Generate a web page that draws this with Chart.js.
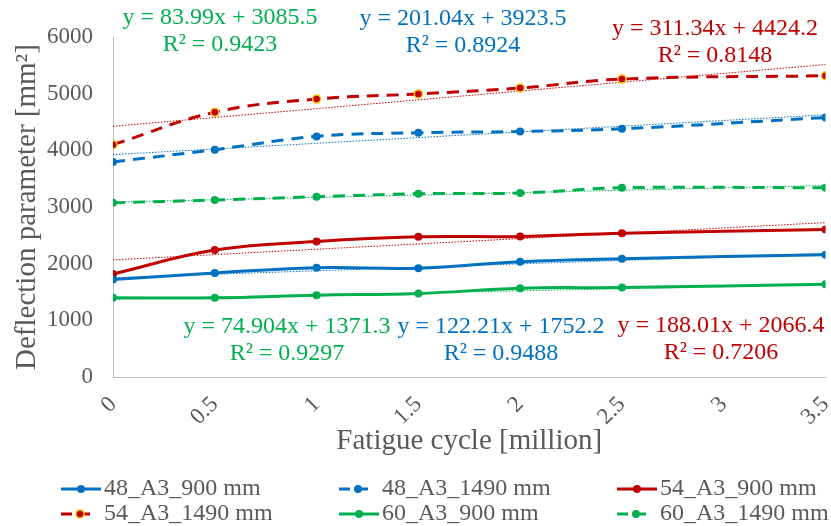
<!DOCTYPE html>
<html>
<head>
<meta charset="utf-8">
<script src="https://cdn.jsdelivr.net/npm/chart.js@4.4.0/dist/chart.umd.min.js"></script>
<style>
  body { margin: 0; background: #fff; }
  #wrap { width: 831px; height: 526px; }
</style>
</head>
<body>
<div id="wrap"><canvas id="graph" width="831" height="526"></canvas></div>
<script>
// fatigue cycles (million) where deflection was measured
const cycles = [0, 0.5, 1, 1.5, 2, 2.5, 3.5];
const xTickLabels = ['0', '0.5', '1', '1.5', '2', '2.5', '3', '3.5'];
const yTickLabels = ['0', '1000', '2000', '3000', '4000', '5000', '6000'];

// deflection parameter [mm²]
const s48_900  = [1719, 1836, 1930, 1920, 2035, 2088, 2158];
const s48_1490 = [3795, 4012, 4246, 4310, 4333, 4380, 4579];
const s54_900  = [1819, 2240, 2391, 2474, 2479, 2538, 2602];
const s54_1490 = [4100, 4672, 4905, 4995, 5100, 5258, 5316];
const s60_900  = [1398, 1398, 1444, 1474, 1567, 1579, 1637];
const s60_1490 = [3076, 3123, 3181, 3234, 3246, 3339, 3339];

const seriesNames = ['48_A3_900 mm', '48_A3_1490 mm', '54_A3_900 mm',
                     '54_A3_1490 mm', '60_A3_900 mm', '60_A3_1490 mm'];

// linear trendlines as printed on the chart
const trendSlope     = [122.21, 201.04, 188.01, 311.34, 74.904, 83.99];
const trendIntercept = [1752.2, 3923.5, 2066.4, 4424.2, 1371.3, 3085.5];
const trendR2        = ['0.9488', '0.8924', '0.7206', '0.8148', '0.9297', '0.9423'];

const BLUE = '#0070c0', RED = '#c00000', GREEN = '#00b050', GOLD = '#ffc000';
const TXT = '#595959';
const FONT = 'Liberation Serif';

const allValues = [s48_900, s48_1490, s54_900, s54_1490, s60_900, s60_1490];
const colors = [BLUE, BLUE, RED, RED, GREEN, GREEN];
const dashed = [false, true, false, true, false, true];

// where each equation label sits (pixel centres)
const eqPos = [
  { x: 501, y: 327 }, { x: 463, y: 19 }, { x: 721, y: 326 },
  { x: 715, y: 29 },  { x: 287, y: 327 }, { x: 220, y: 18 }
];

const datasets = [];
allValues.forEach((vals, i) => {
  datasets.push({
    label: seriesNames[i],
    data: cycles.map((c, k) => ({ x: c, y: vals[k] })),
    borderColor: colors[i],
    backgroundColor: colors[i],
    borderWidth: 3,
    borderDash: dashed[i] ? [12, 8] : [],
    tension: 0.4,
    pointRadius: 4,
    pointBorderWidth: i === 3 ? 1.5 : 0,
    pointBorderColor: i === 3 ? GOLD : colors[i],
    pointBackgroundColor: colors[i],
    order: 0
  });
});
trendSlope.forEach((m, i) => {
  const b = trendIntercept[i];
  datasets.push({
    label: 'trend ' + seriesNames[i],
    data: [{ x: 0, y: b }, { x: 3.5, y: b + m * 3.5 }],
    borderColor: colors[i],
    borderWidth: 1,
    borderDash: [1.5, 1.5],
    pointRadius: 0,
    order: 1
  });
});

const extras = {
  id: 'extras',
  afterDraw(chart) {
    const ctx = chart.ctx;
    ctx.save();
    // equation labels
    ctx.font = '24px "' + FONT + '"';
    ctx.textAlign = 'center';
    ctx.textBaseline = 'middle';
    eqPos.forEach((p, i) => {
      ctx.fillStyle = colors[i];
      ctx.fillText('y = ' + trendSlope[i] + 'x + ' + trendIntercept[i], p.x, p.y);
      ctx.fillText('R² = ' + trendR2[i], p.x, p.y + 27);
    });
    // legend, 3 columns x 2 rows
    ctx.textAlign = 'left';
    seriesNames.forEach((name, i) => {
      const col = i % 3, row = Math.floor(i / 3);
      const x0 = 61 + col * 278, y = 489 + row * 25;
      ctx.strokeStyle = colors[i];
      ctx.lineWidth = 3;
      ctx.setLineDash([]);
      ctx.beginPath();
      if (dashed[i]) {
        ctx.moveTo(x0, y); ctx.lineTo(x0 + 11, y);
        ctx.moveTo(x0 + 23, y); ctx.lineTo(x0 + 29, y);
      } else {
        ctx.moveTo(x0, y); ctx.lineTo(x0 + 40, y);
      }
      ctx.stroke();
      const mx = dashed[i] ? x0 + 19 : x0 + 20;
      ctx.beginPath();
      ctx.arc(mx, y, 4, 0, Math.PI * 2);
      ctx.fillStyle = colors[i];
      ctx.fill();
      if (i === 3) { ctx.lineWidth = 1.5; ctx.strokeStyle = GOLD; ctx.stroke(); }
      ctx.fillStyle = TXT;
      ctx.fillText(name, x0 + 43, y);
    });
    ctx.restore();
  }
};

new Chart(document.getElementById('graph').getContext('2d'), {
  type: 'line',
  data: { datasets: datasets },
  options: {
    responsive: false,
    animation: false,
    layout: { padding: { top: 37, right: 5, bottom: 67, left: 0 } },
    plugins: { legend: { display: false }, tooltip: { enabled: false } },
    scales: {
      x: {
        type: 'linear', min: 0, max: 3.5,
        grid: { display: false, drawTicks: false },
        border: { display: true, color: '#bfbfbf', width: 1 },
        ticks: {
          stepSize: 0.5, minRotation: 45, maxRotation: 45, padding: 14,
          color: TXT, font: { family: FONT, size: 23 },
          callback: (v, i) => xTickLabels[i]
        },
        title: {
          display: true, text: 'Fatigue cycle [million]', color: TXT,
          font: { family: FONT, size: 29 }, padding: 0
        },
        afterFit(s) { s.height = 82; s.paddingLeft = 0; s.paddingRight = 0; }
      },
      y: {
        min: 0, max: 6000,
        grid: { display: false, drawTicks: false },
        border: { display: true, color: '#bfbfbf', width: 1 },
        ticks: {
          stepSize: 1000, padding: 20,
          color: TXT, font: { family: FONT, size: 23 },
          callback: (v, i) => yTickLabels[i]
        },
        title: {
          display: true, text: 'Deflection parameter [mm²]', color: TXT,
          font: { family: FONT, size: 29 }, padding: { top: 10, bottom: 0 }
        },
        afterFit(s) { s.width = 113; }
      }
    }
  },
  plugins: [extras]
});
</script>
</body>
</html>
